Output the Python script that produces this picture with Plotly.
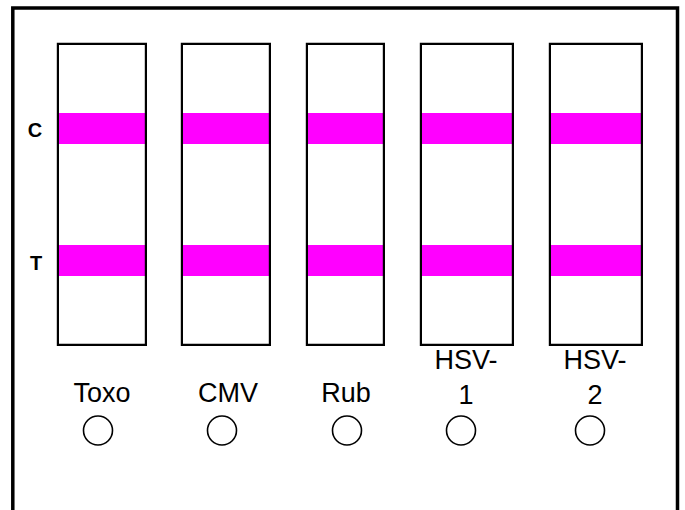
import plotly.graph_objects as go

# ---- data ----
tests = ["Toxo", "CMV", "Rub", "HSV-1", "HSV-2"]
test_labels = ["Toxo", "CMV", "Rub", "HSV-<br>1", "HSV-<br>2"]
line_names = ["C", "T"]
# band present (1) for each line (C, T) on each strip
band_present = {
    "C": [1, 1, 1, 1, 1],
    "T": [1, 1, 1, 1, 1],
}

# ---- layout geometry (pixels of the 685x510 canvas) ----
W, H = 685, 510
strip_left = [58, 182, 307, 421, 550]
strip_right = [146, 270, 384, 513, 642]
strip_top, strip_bottom = 44, 345
band_top = {"C": 113, "T": 245}
band_bottom = {"C": 144, "T": 276}
line_label_x = {"C": 35, "T": 36}
line_label_y = {"C": 132, "T": 265}
label_x = [102, 228, 346, 466, 595]
label_y = [395, 395, 395, 379.5, 379.5]
circle_x = [98, 222, 347, 461, 590]
circle_y = 430.5
MAGENTA = "#ff00ff"

centers = [(l + r) / 2 for l, r in zip(strip_left, strip_right)]
widths = [r - l for l, r in zip(strip_left, strip_right)]

fig = go.Figure()

# strip background
fig.add_trace(go.Bar(
    x=centers, width=widths, base=[strip_top] * len(tests),
    y=[strip_bottom - strip_top] * len(tests),
    marker=dict(color="white", line=dict(width=0)),
    hoverinfo="skip", showlegend=False,
))

# bands
for ln in line_names:
    pres = band_present[ln]
    fig.add_trace(go.Bar(
        x=centers, width=widths, base=[band_top[ln]] * len(tests),
        y=[(band_bottom[ln] - band_top[ln]) * p for p in pres],
        marker=dict(color=MAGENTA, line=dict(width=0)),
        hovertext=tests, name=ln, showlegend=False,
    ))

# strip outlines
fig.add_trace(go.Bar(
    x=centers, width=widths, base=[strip_top] * len(tests),
    y=[strip_bottom - strip_top] * len(tests),
    marker=dict(color="rgba(0,0,0,0)", line=dict(width=2.2, color="black")),
    hoverinfo="skip", showlegend=False,
))

# line labels C / T
fig.add_trace(go.Scatter(
    x=[line_label_x[ln] for ln in line_names],
    y=[line_label_y[ln] for ln in line_names],
    text=[f"<b>{ln}</b>" for ln in line_names],
    mode="text", textposition="middle center",
    textfont=dict(family="Arial, Liberation Sans, sans-serif", size=20, color="black"),
    hoverinfo="skip", showlegend=False,
))

# test labels
fig.add_trace(go.Scatter(
    x=label_x, y=label_y, text=test_labels,
    mode="text", textposition="middle center",
    textfont=dict(family="Arial, Liberation Sans, sans-serif", size=27, color="black"),
    hoverinfo="skip", showlegend=False,
))

# sample wells (circles)
fig.add_trace(go.Scatter(
    x=circle_x, y=[circle_y] * len(tests), mode="markers",
    marker=dict(symbol="circle-open", size=29, color="black", line=dict(width=1.6)),
    hovertext=tests, showlegend=False,
))

# outer frame
fig.add_shape(type="rect", xref="x", yref="y", x0=12.8, x1=677.5, y0=8, y1=530,
              line=dict(color="black", width=3.5), fillcolor="rgba(0,0,0,0)", layer="above")

fig.update_layout(
    width=W, height=H, margin=dict(l=0, r=0, t=0, b=0),
    paper_bgcolor="white", plot_bgcolor="white",
    barmode="overlay", bargap=0,
    xaxis=dict(range=[0, W], visible=False, fixedrange=True),
    yaxis=dict(range=[H, 0], visible=False, fixedrange=True),
)

fig.write_html(
    "out.html",
    config={"displayModeBar": False},
    post_script="document.body.style.margin='0';document.body.style.overflow='hidden';",
)
